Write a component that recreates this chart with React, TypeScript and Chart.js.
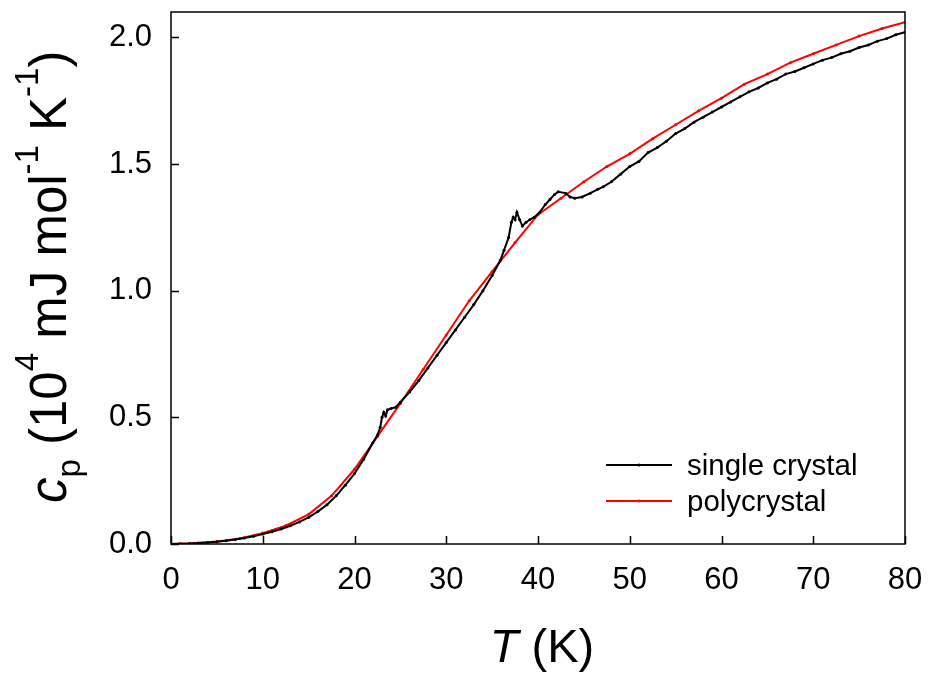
import React, { useEffect, useRef } from "react";
import { Chart, registerables } from "chart.js";

Chart.register(...registerables);

// Single crystal: temperature (K) and cp (10^4 mJ mol^-1 K^-1)
const singleT = [
  0, 1, 2, 3, 4, 5, 6, 7, 8, 9, 10, 11, 12, 13, 14, 15, 16, 17, 18, 19, 20,
  21, 22, 22.5, 22.8, 23.0, 23.2, 23.4, 23.6, 24, 24.5, 25, 26, 27, 28, 29, 30,
  31, 32, 33, 34, 35, 35.9, 36.3, 36.8, 37.1, 37.3, 37.5, 37.7, 38.0, 38.3,
  38.7, 39.1, 39.6, 40.2, 40.8, 41.3, 41.8, 42.2, 43.0, 43.5, 44.0, 44.8, 45.7,
  46.5, 47.1, 48, 49, 50, 51, 52, 53, 54, 55, 56, 57, 58, 59, 60, 61, 62, 63,
  64, 65, 66, 67, 68, 69, 70, 71, 72, 73, 74, 75, 76, 77, 78, 79, 80,
];
const singleCp = [
  0.0, 0.001, 0.002, 0.004, 0.006, 0.009, 0.013, 0.018, 0.024, 0.031, 0.039,
  0.048, 0.059, 0.072, 0.087, 0.105, 0.128, 0.155, 0.19, 0.232, 0.278, 0.335,
  0.4, 0.43, 0.46, 0.5, 0.52, 0.505, 0.53, 0.535, 0.54, 0.56, 0.6, 0.645,
  0.695, 0.745, 0.795, 0.845, 0.895, 0.945, 1.0, 1.06, 1.12, 1.16, 1.21, 1.27,
  1.29, 1.28, 1.31, 1.28, 1.255, 1.27, 1.28, 1.29, 1.31, 1.34, 1.36, 1.38,
  1.39, 1.385, 1.37, 1.365, 1.37, 1.385, 1.4, 1.41, 1.43, 1.46, 1.49, 1.51,
  1.545, 1.565, 1.59, 1.62, 1.64, 1.665, 1.685, 1.705, 1.725, 1.745, 1.765,
  1.785, 1.8, 1.82, 1.835, 1.855, 1.865, 1.88, 1.895, 1.91, 1.92, 1.935,
  1.945, 1.96, 1.97, 1.985, 1.995, 2.01, 2.02,
];

// Polycrystal
const polyT = [
  0, 2.5, 5, 7.5, 10, 12.5, 15, 17.5, 20, 22.5, 25, 27.5, 30, 32.5, 35, 37.5,
  40, 42.5, 45, 47.5, 50, 52.5, 55, 57.5, 60, 62.5, 65, 67.5, 70, 72.5, 75,
  77.5, 80,
];
const polyCp = [
  0.0, 0.003, 0.01, 0.022, 0.043, 0.072, 0.117, 0.19, 0.295, 0.425, 0.555,
  0.69, 0.825, 0.96, 1.075, 1.19, 1.3, 1.365, 1.43, 1.49, 1.54, 1.6, 1.655,
  1.71, 1.76, 1.815, 1.855, 1.9, 1.935, 1.97, 2.005, 2.035, 2.06,
];

const xMin = 0;
const xMax = 80;
const xStep = 10;
const yMin = 0;
const yMax = 2.1;
const yStep = 0.5;

const seriesNames = ["single crystal", "polycrystal"];
const seriesColors = ["#000000", "#ff0000"];

const FONT = "'Liberation Sans', Arial, Helvetica, sans-serif";

function toPoints(xs: number[], ys: number[]) {
  return xs.map((x, i) => ({ x, y: ys[i] }));
}

const decorPlugin = {
  id: "decor",
  afterDraw(chart: any) {
    const { ctx, chartArea } = chart;
    const { left, right, top, bottom } = chartArea;
    const xs = chart.scales.x;
    const ys = chart.scales.y;
    ctx.save();
    ctx.strokeStyle = "#000";
    ctx.lineWidth = 1.5;
    ctx.strokeRect(left, top, right - left, bottom - top);
    const tl = 8;
    ctx.beginPath();
    xs.ticks.forEach((t: any) => {
      const px = Math.round(xs.getPixelForValue(t.value)) + 0.5;
      ctx.moveTo(px, bottom);
      ctx.lineTo(px, bottom - tl);
    });
    ys.ticks.forEach((t: any) => {
      const py = Math.round(ys.getPixelForValue(t.value)) + 0.5;
      ctx.moveTo(left, py);
      ctx.lineTo(left + tl, py);
    });
    ctx.stroke();

    // X title: T (K)
    const xs0 = 47;
    ctx.fillStyle = "#000";
    ctx.textBaseline = "alphabetic";
    ctx.textAlign = "left";
    const p1 = "T";
    const p2 = " (K)";
    ctx.font = `italic ${xs0}px ${FONT}`;
    const w1 = ctx.measureText(p1).width;
    ctx.font = `${xs0}px ${FONT}`;
    const w2 = ctx.measureText(p2).width;
    const cx = 542;
    const sx = cx - (w1 + w2) / 2;
    ctx.font = `italic ${xs0}px ${FONT}`;
    ctx.fillText(p1, sx, 662);
    ctx.font = `${xs0}px ${FONT}`;
    ctx.fillText(p2, sx + w1, 662);

    // Y title: c_p (10^4 mJ mol^-1 K^-1)
    const S = 51;
    const sm = 33;
    const parts = [
      { t: "c", size: S, italic: true, dy: 0 },
      { t: "p", size: sm, italic: false, dy: 14 },
      { t: " (10", size: S, italic: false, dy: 0 },
      { t: "4", size: sm, italic: false, dy: -28 },
      { t: " mJ mol", size: S, italic: false, dy: 0 },
      { t: "-1", size: sm, italic: false, dy: -28 },
      { t: " K", size: S, italic: false, dy: 0 },
      { t: "-1", size: sm, italic: false, dy: -28 },
      { t: ")", size: S, italic: false, dy: 0 },
    ];
    ctx.save();
    ctx.translate(66, 503);
    ctx.rotate(-Math.PI / 2);
    let px = 0;
    parts.forEach((p) => {
      ctx.font = `${p.italic ? "italic " : ""}${p.size}px ${FONT}`;
      ctx.fillText(p.t, px, p.dy);
      px += ctx.measureText(p.t).width;
    });
    ctx.restore();

    // Legend
    const legY = [465, 501];
    ctx.font = `29.5px ${FONT}`;
    ctx.textBaseline = "alphabetic";
    seriesNames.forEach((name, i) => {
      ctx.strokeStyle = seriesColors[i];
      ctx.fillStyle = seriesColors[i];
      ctx.lineWidth = 2;
      ctx.beginPath();
      ctx.moveTo(606, legY[i]);
      ctx.lineTo(672, legY[i]);
      ctx.stroke();
      ctx.beginPath();
      ctx.arc(639, legY[i], 1.6, 0, Math.PI * 2);
      ctx.fill();
      ctx.fillStyle = "#000";
      ctx.fillText(name, 687, legY[i] + 10);
    });
    ctx.restore();
  },
};

export default function App() {
  const canvasRef = useRef<HTMLCanvasElement | null>(null);

  useEffect(() => {
    document.body.style.margin = "0";
    const canvas = canvasRef.current;
    if (!canvas) return;
    const chart = new Chart(canvas, {
      type: "line",
      data: {
        datasets: [
          {
            label: seriesNames[0],
            data: toPoints(singleT, singleCp),
            borderColor: seriesColors[0],
            backgroundColor: seriesColors[0],
            borderWidth: 2,
            pointRadius: 1.5,
            pointBorderWidth: 0,
            tension: 0,
          },
          {
            label: seriesNames[1],
            data: toPoints(polyT, polyCp),
            borderColor: seriesColors[1],
            backgroundColor: seriesColors[1],
            borderWidth: 2,
            pointRadius: 1.5,
            pointBorderWidth: 0,
            tension: 0,
          },
        ],
      },
      options: {
        responsive: false,
        animation: false,
        devicePixelRatio: 1,
        layout: { padding: { top: 12, right: 23, left: 0, bottom: 0 } },
        plugins: {
          legend: { display: false },
          tooltip: { enabled: false },
        },
        scales: {
          x: {
            type: "linear",
            min: xMin,
            max: xMax,
            grid: { display: false, drawTicks: false },
            border: { display: false },
            ticks: {
              stepSize: xStep,
              padding: 18,
              color: "#000",
              font: { family: FONT, size: 31 },
              maxRotation: 0,
              includeBounds: false,
            },
            afterFit: (s: any) => {
              s.height = 131;
              s.paddingLeft = 0;
              s.paddingRight = 0;
            },
          },
          y: {
            type: "linear",
            min: yMin,
            max: yMax,
            grid: { display: false, drawTicks: false },
            border: { display: false },
            ticks: {
              stepSize: yStep,
              padding: 19,
              color: "#000",
              font: { family: FONT, size: 31 },
              includeBounds: false,
              callback: (v: any) => Number(v).toFixed(1),
            },
            afterFit: (s: any) => {
              s.width = 171;
              s.paddingTop = 0;
              s.paddingBottom = 0;
            },
          },
        },
      },
      plugins: [decorPlugin],
    });
    return () => chart.destroy();
  }, []);

  return (
    <div style={{ position: "fixed", left: 0, top: 0, width: 928, height: 675, background: "#fff" }}>
      <canvas ref={canvasRef} width={928} height={675} />
    </div>
  );
}
